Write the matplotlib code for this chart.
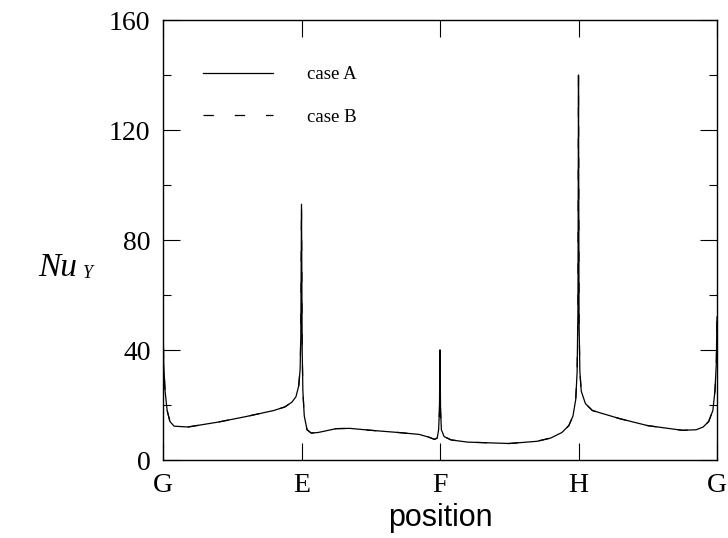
import numpy as np
import matplotlib
matplotlib.use("Agg")
import matplotlib.pyplot as plt

plt.rcParams['font.family'] = ['Liberation Serif', 'DejaVu Serif']

# position along the path G-E-F-H-G (0..4), Nu_Y
pos = [0.0, 0.005, 0.015, 0.03, 0.05, 0.08, 0.18, 0.4, 0.6, 0.8, 0.88, 0.93, 0.96, 0.98, 0.99, 0.995, 1.0,
       1.005, 1.01, 1.02, 1.04, 1.07, 1.12, 1.25, 1.35, 1.5, 1.7, 1.85, 1.92, 1.96, 1.98, 1.99, 1.996, 2.0,
       2.004, 2.01, 2.03, 2.08, 2.2, 2.5, 2.7, 2.8, 2.88, 2.93, 2.96, 2.98, 2.99, 2.996, 3.0,
       3.004, 3.01, 3.02, 3.05, 3.1, 3.3, 3.5, 3.75, 3.85, 3.9, 3.94, 3.97, 3.985, 3.995, 4.0]
nu_a = [52, 35, 25, 18, 14, 12.3, 12, 13.8, 15.8, 18, 19.3, 21, 23, 27, 33, 45, 93,
        40, 25, 16, 11, 9.8, 10, 11.4, 11.5, 10.8, 10, 9.3, 8.3, 7.5, 8, 11, 18, 40,
        18, 11, 8.5, 7.3, 6.5, 6.0, 6.8, 8, 10, 12.5, 16, 22, 32, 55, 140,
        50, 32, 25, 20.5, 18, 15, 12.5, 10.8, 11, 12, 14, 18, 25, 35, 52]
# case B lies on top of case A in the figure
nu_b = list(nu_a)

xticks = [0, 1, 2, 3, 4]
xlabels = ['G', 'E', 'F', 'H', 'G']
yticks = [0, 40, 80, 120, 160]

fig = plt.figure(figsize=(7.28, 5.38), dpi=100)
ax = fig.add_axes([163/728, 1 - 460/538, (717-163)/728, 440/538])

ax.plot(pos, nu_a, color='black', lw=0.9, label='case A')
ax.plot(pos, nu_b, color='black', lw=0.9, ls=(0, (8.3, 16.7)), label='case B')

ax.set_xlim(0, 4)
ax.set_ylim(0, 160)
ax.set_xticks(xticks)
ax.set_xticklabels(xlabels)
ax.set_yticks(yticks)
ax.set_yticks([20, 60, 100, 140], minor=True)
ax.tick_params(which='both', direction='in', top=True, right=True, labelsize=20, width=0.8)
ax.tick_params(which='major', length=12)
ax.tick_params(which='minor', length=6)
ax.tick_params(axis='x', pad=9)
ax.tick_params(axis='y', pad=9)
for s in ax.spines.values():
    s.set_linewidth(1.0)

ax.set_xlabel('position', family=['Liberation Sans'], fontsize=22, labelpad=4)
fig.text(38/728, 1 - 268/538, 'Nu', fontsize=24, style='italic', ha='left', va='center')
fig.text(83/728, 1 - 274/538, 'Y', fontsize=13, style='italic', ha='left', va='center')

leg = ax.legend(loc='upper left', bbox_to_anchor=(0.055, 0.916), frameon=False,
                fontsize=13.5, handlelength=3.73, handletextpad=1.8, labelspacing=1.35,
                borderpad=0)

fig.savefig('out.png', dpi=100)
